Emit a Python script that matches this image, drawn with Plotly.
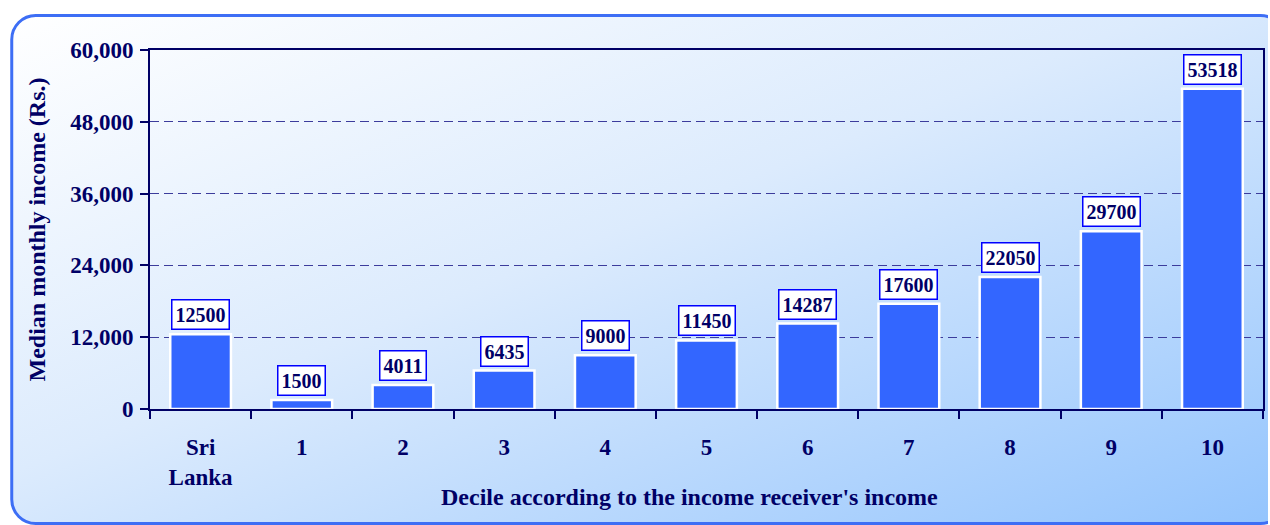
import base64
import plotly.graph_objects as go

categories = ["Sri<br>Lanka", "1", "2", "3", "4", "5", "6", "7", "8", "9", "10"]
values = [12500, 1500, 4011, 6435, 9000, 11450, 14287, 17600, 22050, 29700, 53518]
y_ticks = [0, 12000, 24000, 36000, 48000, 60000]
y_ticktext = ["0", "12,000", "24,000", "36,000", "48,000", "60,000"]
x_title = "Decile according to the income receiver's income"
y_title = "Median monthly income (Rs.)"

W, H = 1270, 525
ML, MR, MT, MB = 150, 5, 50, 116
PW, PH = W - ML - MR, H - MT - MB

svg = f"""<svg xmlns='http://www.w3.org/2000/svg' width='{W}' height='{H}' viewBox='0 0 {W} {H}'>
<defs><linearGradient id='g' x1='0' y1='0' x2='1' y2='1'>
<stop offset='0' stop-color='#ffffff'/>
<stop offset='0.45' stop-color='#dcebfd'/>
<stop offset='1' stop-color='#93c4fd'/>
</linearGradient></defs>
<rect x='11.5' y='15.5' width='1275' height='508' rx='24' ry='24' fill='url(#g)' stroke='#3d6ef5' stroke-width='3'/>
</svg>"""
src = "data:image/svg+xml;base64," + base64.b64encode(svg.encode()).decode()

navy = "#000066"
font_fam = "Liberation Serif"

fig = go.Figure()
fig.add_trace(go.Bar(
    x=categories, y=values,
    marker=dict(color="#3366ff", line=dict(color="white", width=2.5)),
    width=0.6,
    hoverinfo="skip",
))

for c, v in zip(categories, values):
    fig.add_annotation(
        x=c, y=v, text=f"<b>{v}</b>", showarrow=False,
        yanchor="bottom", yshift=4,
        font=dict(family=font_fam, size=20, color=navy),
        bgcolor="white", bordercolor="#0000ff", borderwidth=1.5, borderpad=3,
    )

# x-axis title placed as paper annotation (centred as in the original)
fig.add_annotation(
    xref="paper", yref="paper",
    x=(690 - ML) / PW, y=-(497 - (MT + PH)) / PH,
    xanchor="center", yanchor="middle", showarrow=False,
    text=f"<b>{x_title}</b>",
    font=dict(family=font_fam, size=24, color=navy),
)

fig.update_layout(
    width=W, height=H,
    margin=dict(l=ML, r=MR, t=MT, b=MB),
    paper_bgcolor="rgba(0,0,0,0)",
    plot_bgcolor="rgba(0,0,0,0)",
    showlegend=False,
    font=dict(family=font_fam, color=navy),
    images=[dict(
        source=src, xref="paper", yref="paper",
        x=-ML / PW, y=1 + MT / PH, sizex=W / PW, sizey=H / PH,
        xanchor="left", yanchor="top", sizing="stretch", layer="below",
    )],
    xaxis=dict(
        type="category",
        tickmode="array", tickvals=categories, ticktext=[f"<b>{c}</b>" for c in categories],
        tickson="boundaries", ticks="outside", ticklen=8, tickwidth=1.5, tickcolor=navy,
        tickfont=dict(family=font_fam, size=23, color=navy),
        showline=True, linecolor=navy, linewidth=2, mirror=True,
        showgrid=False,
        ticklabelstandoff=16,
    ),
    yaxis=dict(
        range=[0, 60000],
        tickmode="array", tickvals=y_ticks, ticktext=[f"<b>{t}</b>" for t in y_ticktext],
        ticks="outside", ticklen=8, tickwidth=1.5, tickcolor=navy,
        tickfont=dict(family=font_fam, size=23, color=navy),
        showline=True, linecolor=navy, linewidth=2, mirror=True,
        showgrid=True, gridcolor="#3c3c9c", gridwidth=1, griddash="9px,5px",
        zeroline=False,
        ticklabelstandoff=2,
        title=dict(text=f"<b>{y_title}</b>",
                   font=dict(family=font_fam, size=24, color=navy), standoff=18),
    ),
)

fig.write_html("out.html", config={"displayModeBar": False},
               post_script="document.body.style.margin='0';")
